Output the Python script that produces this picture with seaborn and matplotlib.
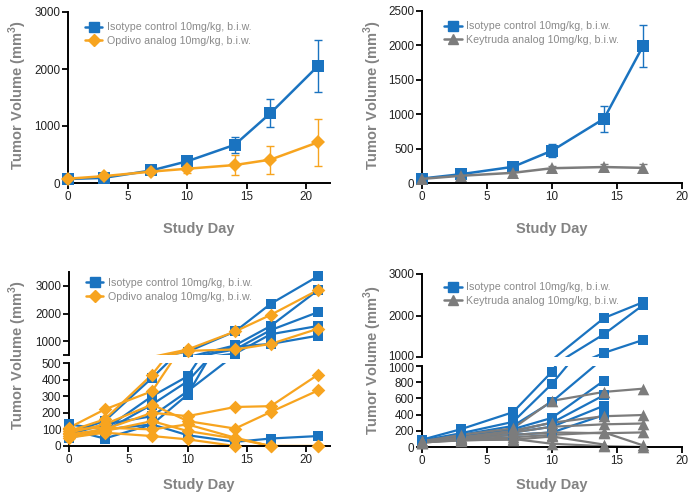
import numpy as np
import pandas as pd
import seaborn as sns
import matplotlib.pyplot as plt
import matplotlib.transforms as mtransforms
from matplotlib.lines import Line2D

sns.set_theme(style="ticks")
plt.rcParams['font.family'] = ['Liberation Sans', 'DejaVu Sans']
plt.rcParams['mathtext.fontset'] = 'custom'
plt.rcParams['mathtext.rm'] = 'Liberation Sans'
plt.rcParams['mathtext.bf'] = 'Liberation Sans:bold'

BLUE = '#1a73c0'
ORANGE = '#f7a41f'
GRAY = '#7c7c7c'
LABEL = '#838383'

# ---- top: group means +/- SEM ----
days_a = [0, 3, 7, 10, 14, 17, 21]
iso_a = [70, 90, 220, 380, 670, 1225, 2055]
iso_a_err = [10, 15, 25, 40, 140, 240, 460]
opd_a = [75, 120, 200, 250, 315, 410, 715]
opd_a_err = [10, 20, 30, 80, 170, 245, 410]

days_b = [0, 3, 7, 10, 14, 17]
iso_b = [65, 128, 235, 470, 935, 1990]
iso_b_err = [10, 20, 30, 95, 187, 305]
key_b = [60, 105, 148, 215, 232, 220]
key_b_err = [10, 15, 25, 35, 45, 55]

# ---- bottom: individual animals ----
iso_c = [
    [80, 150, 410, 620, 1350, 2350, 3350],
    [60, 100, 300, 420, 850, 1550, 2850],
    [50, 90, 250, 390, 700, 1400, 2050],
    [70, 130, 180, 330, 550, 1250, 1550],
    [100, 45, 130, 310, 800, 900, 1200],
    [130, 100, 130, 65, 25, 45, 60],
]
opd_c = [
    [90, 160, 430, 700, 1350, 1950, 2850],
    [110, 220, 330, 650, 700, 900, 1450],
    [70, 100, 200, 180, 235, 240, 430],
    [80, 130, 250, 150, 105, 205, 335],
    [60, 90, 150, 90, 45, 0, 0],
    [50, 80, 60, 40, 0, np.nan, np.nan],
    [100, 110, 100, 130, 50, 0, 0],
]
iso_d = [
    [90, 220, 430, 930, 1940, 2320],
    [80, 170, 310, 780, 1550, 2250],
    [70, 150, 260, 560, 1100, 1410],
    [60, 130, 220, 360, 820, np.nan],
    [80, 120, 200, 300, 640, np.nan],
    [70, 110, 180, 250, 510, np.nan],
    [60, 100, 150, 180, 395, np.nan],
]
key_d = [
    [70, 150, 230, 570, 680, 720],
    [60, 120, 200, 300, 380, 395],
    [80, 110, 180, 250, 280, 290],
    [50, 100, 150, 180, 170, 180],
    [70, 90, 120, 150, 180, 20],
    [60, 80, 100, 40, 10, 0],
    [55, 85, 90, 130, 30, np.nan],
]

ISO = 'Isotype control 10mg/kg, b.i.w.'
OPD = 'Opdivo analog 10mg/kg, b.i.w.'
KEY = 'Keytruda analog 10mg/kg, b.i.w.'


def long_form(days, animals, group):
    rows = []
    for i, vals in enumerate(animals):
        for d, v in zip(days, vals):
            if not np.isnan(v):
                rows.append({'day': d, 'vol': v, 'mouse': f'{group}{i}', 'group': group})
    return pd.DataFrame(rows)


fig = plt.figure(figsize=(6.89, 4.96), dpi=100)
W, H = 689, 496


def add_ax(left, right, top, bottom):
    return fig.add_axes([left / W, 1 - bottom / H, (right - left) / W, (bottom - top) / H])


def style(ax, bottom=True):
    sns.despine(ax=ax, bottom=not bottom)
    for s in ['left', 'bottom']:
        ax.spines[s].set_color('black')
        ax.spines[s].set_linewidth(1.4)
    ax.tick_params(axis='both', length=4, width=1.3, pad=1.5, labelsize=8.4,
                   colors='black', labelcolor='#222222', direction='out')
    if not bottom:
        ax.tick_params(axis='x', bottom=False, labelbottom=False)
    ax.set_xlabel('')
    ax.set_ylabel('')


def legend(ax, entries, x=0.04, y=1.02):
    handles = [Line2D([], [], color=c, marker=m, markersize=ms, lw=1.8, label=l)
               for l, c, m, ms in entries]
    leg = ax.legend(handles=handles, loc='upper left', bbox_to_anchor=(x, y), frameon=False,
                    fontsize=7.7, handlelength=1.6, handletextpad=0.45, labelspacing=0.35,
                    borderaxespad=0)
    for t in leg.get_texts():
        t.set_color('#8a8a8a')


def mean_plot(ax, days, series):
    for vals, err, color, marker, ms in series:
        df = pd.DataFrame({'day': days, 'vol': vals})
        ax.errorbar(days, vals, yerr=err, fmt='none', ecolor=color, elinewidth=1.0,
                    capsize=3, capthick=1.0, clip_on=False, zorder=2)
        sns.lineplot(data=df, x='day', y='vol', ax=ax, color=color, lw=1.8, marker=marker,
                     markersize=ms, markeredgewidth=0, clip_on=False, zorder=3)


# top left
ax1 = add_ax(68, 330, 12, 183)
mean_plot(ax1, days_a, [(iso_a, iso_a_err, BLUE, 's', 8),
                        (opd_a, opd_a_err, ORANGE, 'D', 7)])
ax1.set_xlim(0, 22)
ax1.set_ylim(0, 3000)
ax1.set_xticks([0, 5, 10, 15, 20])
ax1.set_yticks([0, 1000, 2000, 3000])
style(ax1)
legend(ax1, [(ISO, BLUE, 's', 7), (OPD, ORANGE, 'D', 6)], x=0.05, y=0.965)

# top right
ax2 = add_ax(422, 682, 11, 183)
mean_plot(ax2, days_b, [(iso_b, iso_b_err, BLUE, 's', 8),
                        (key_b, key_b_err, GRAY, '^', 8.5)])
ax2.set_xlim(0, 20)
ax2.set_ylim(0, 2500)
ax2.set_xticks([0, 5, 10, 15, 20])
ax2.set_yticks([0, 500, 1000, 1500, 2000, 2500])
style(ax2)
legend(ax2, [(ISO, BLUE, 's', 7), (KEY, GRAY, '^', 7.5)], x=0.07, y=0.965)


def spaghetti(axes, data, colors, markers, sizes, lims):
    for ax, (lo, hi) in zip(axes, lims):
        for (df, color, marker, size) in zip(data, colors, markers, sizes):
            sns.lineplot(data=df, x='day', y='vol', units='mouse', estimator=None, ax=ax,
                         color=color, lw=1.6, legend=False)
            sub = df[(df['vol'] >= lo) & (df['vol'] <= hi)]
            sns.scatterplot(data=sub, x='day', y='vol', ax=ax, color=color, marker=marker,
                            s=size, linewidth=0, clip_on=False, legend=False, zorder=3)
        ax.set_ylim(lo, hi)


# bottom left
c_iso = long_form(days_a, iso_c, 'iso')
c_opd = long_form(days_a, opd_c, 'opd')
ax3u = add_ax(69, 330, 272, 355)
ax3l = add_ax(69, 330, 363, 446)
spaghetti([ax3u, ax3l], [c_iso, c_opd], [BLUE, ORANGE], ['s', 'D'], [60, 48],
          [(500, 3500), (0, 500)])
for ax in (ax3u, ax3l):
    ax.set_xlim(0, 22)
ax3u.set_yticks([500, 1000, 2000, 3000])
ax3u.set_yticklabels(['', '1000', '2000', '3000'])
ax3l.set_yticks([0, 100, 200, 300, 400, 500])
ax3l.set_xticks([0, 5, 10, 15, 20])
style(ax3u, bottom=False)
style(ax3l)
legend(ax3u, [(ISO, BLUE, 's', 7), (OPD, ORANGE, 'D', 6)], x=0.05, y=0.98)

# bottom right
d_iso = long_form(days_b, iso_d, 'iso')
d_key = long_form(days_b, key_d, 'key')
ax4u = add_ax(422, 682, 274, 357)
ax4l = add_ax(422, 682, 366, 447)
spaghetti([ax4u, ax4l], [d_iso, d_key], [BLUE, GRAY], ['s', '^'], [60, 70],
          [(1000, 3000), (0, 1000)])
for ax in (ax4u, ax4l):
    ax.set_xlim(0, 20)
ax4u.set_yticks([1000, 2000, 3000])
ax4l.set_yticks([0, 200, 400, 600, 800, 1000])
ax4l.set_xticks([0, 5, 10, 15, 20])
style(ax4u, bottom=False)
style(ax4l)
legend(ax4u, [(ISO, BLUE, 's', 7), (KEY, GRAY, '^', 7.5)], x=0.07, y=0.95)

# nudge the two "1000" labels at the break apart so they don't collide
fig.canvas.draw()
up = mtransforms.ScaledTranslation(0, 2 / 100, fig.dpi_scale_trans)
down = mtransforms.ScaledTranslation(0, -2 / 100, fig.dpi_scale_trans)
lbl_u = ax4u.get_yticklabels()[0]
lbl_u.set_transform(lbl_u.get_transform() + up)
lbl_l = ax4l.get_yticklabels()[-1]
lbl_l.set_transform(lbl_l.get_transform() + down)

# axis titles
ylab = r'Tumor Volume (mm$^{\mathbf{3}}$)'
kw = dict(rotation=90, ha='center', va='center', color=LABEL, fontsize=10.5, fontweight='bold')
fig.text(18 / W, 1 - 95 / H, ylab, **kw)
fig.text(373 / W, 1 - 95 / H, ylab, **kw)
fig.text(18 / W, 1 - 355 / H, ylab, **kw)
fig.text(373 / W, 1 - 360 / H, ylab, **kw)
kx = dict(ha='center', va='center', color=LABEL, fontsize=10.5, fontweight='bold')
fig.text(199 / W, 1 - 229 / H, 'Study Day', **kx)
fig.text(552 / W, 1 - 229 / H, 'Study Day', **kx)
fig.text(199 / W, 1 - 485 / H, 'Study Day', **kx)
fig.text(552 / W, 1 - 485 / H, 'Study Day', **kx)

fig.savefig('out.png', dpi=100)
